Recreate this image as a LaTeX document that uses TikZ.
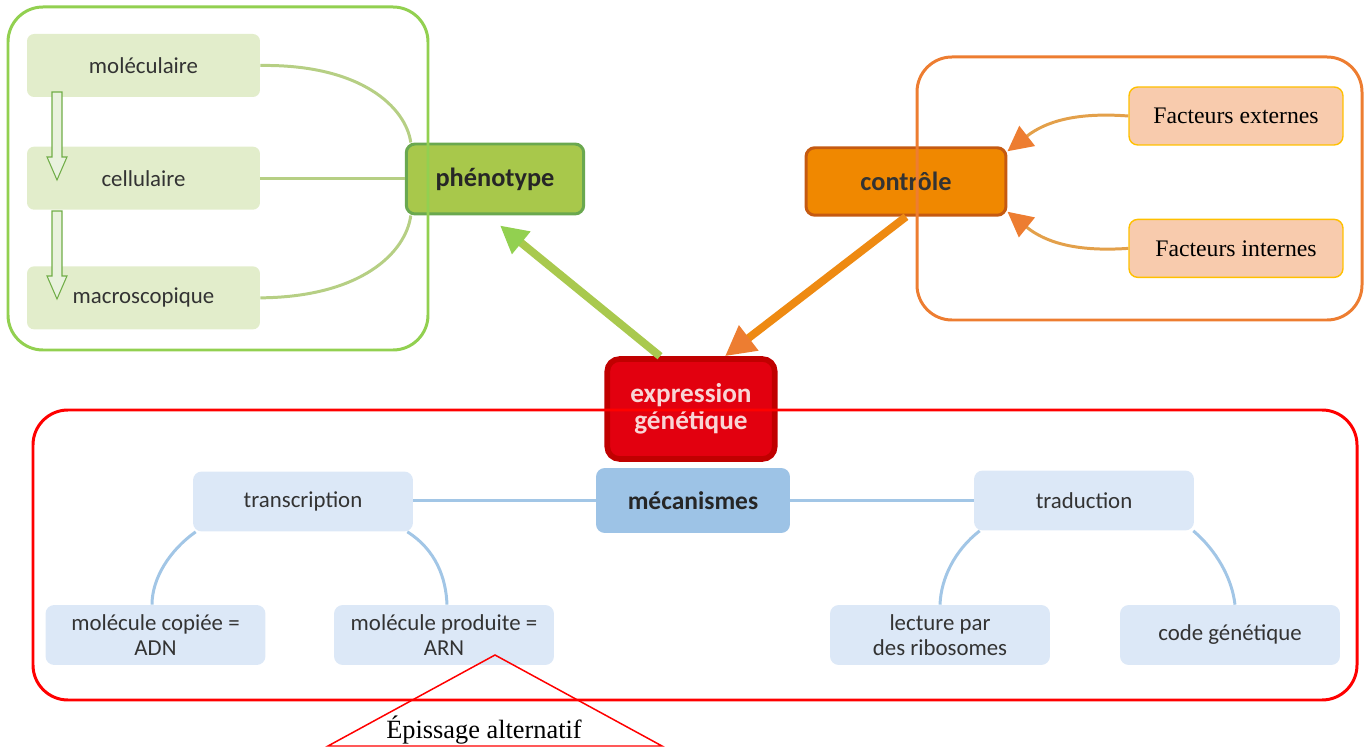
\documentclass[tikz,border=0pt]{standalone}
\usepackage{fontspec}
\setmainfont{Liberation Serif}
\newfontfamily\boxfont{Carlito}
\usepackage{xcolor}
\usetikzlibrary{positioning,calc,arrows.meta}

\definecolor{grnframe}{HTML}{92D050}
\definecolor{grnbox}{HTML}{E2EDCB}
\definecolor{grnline}{HTML}{B6CF84}
\definecolor{grnhead}{HTML}{92D050}
\definecolor{grnshaft}{HTML}{A9C94E}
\definecolor{phenfill}{HTML}{A8C84B}
\definecolor{phenedge}{HTML}{6AA84F}
\definecolor{blkfill}{HTML}{E9F2DE}
\definecolor{blkedge}{HTML}{70AD47}
\definecolor{orgframe}{HTML}{ED7D31}
\definecolor{ctrlfill}{HTML}{F08800}
\definecolor{ctrledge}{HTML}{C55A11}
\definecolor{facfill}{HTML}{F8CBAD}
\definecolor{facedge}{HTML}{FFC000}
\definecolor{orgline}{HTML}{E3A04A}
\definecolor{orgshaft}{HTML}{EE8A12}
\definecolor{exprfill}{HTML}{E2000F}
\definecolor{expredge}{HTML}{C00000}
\definecolor{exprtext}{HTML}{F9D5D5}
\definecolor{mecafill}{HTML}{9DC3E6}
\definecolor{bluebox}{HTML}{DCE8F7}
\definecolor{blueline}{HTML}{A2C6E6}
\definecolor{boxtext}{HTML}{333333}

\tikzset{
  lvlbox/.style={fill=grnbox, rounded corners=4pt, minimum width=4.66cm, minimum height=1.26cm,
    font=\boxfont\fontsize{13}{15}\selectfont, text=boxtext},
  phenbox/.style={fill=phenfill, draw=phenedge, line width=1.7pt, rounded corners=5pt,
    minimum width=3.55cm, minimum height=1.4cm, font=\boxfont\bfseries\fontsize{15}{17}\selectfont, text=black!85},
  ctrlbox/.style={fill=ctrlfill, draw=ctrledge, line width=1.7pt, rounded corners=5pt,
    minimum width=4cm, minimum height=1.35cm, font=\boxfont\bfseries\fontsize{15}{17}\selectfont, text=black!80},
  facbox/.style={fill=facfill, draw=facedge, line width=0.8pt, rounded corners=5pt,
    minimum width=4.28cm, minimum height=1.16cm, font=\fontsize{13.5}{16}\selectfont},
  exprbox/.style={fill=exprfill, draw=expredge, line width=3.2pt, rounded corners=7pt, align=center,
    minimum width=3.35cm, minimum height=2cm, font=\boxfont\bfseries\fontsize{15.5}{15.5}\selectfont, text=exprtext},
  mecabox/.style={fill=mecafill, rounded corners=5pt, minimum width=3.88cm, minimum height=1.3cm,
    font=\boxfont\bfseries\fontsize{14.5}{17}\selectfont, text=black!85},
  subbox/.style={fill=bluebox, rounded corners=5pt, align=center, minimum width=4.4cm, minimum height=1.2cm,
    font=\boxfont\fontsize{13}{14}\selectfont, text=boxtext},
  grnlink/.style={draw=grnline, line width=1.7pt},
  orglink/.style={draw=orgline, line width=1.7pt, -{Triangle[length=0.5cm, width=0.5cm, color=orgframe]}},
  bluelink/.style={draw=blueline, line width=1.7pt},
  grnarrow/.style={draw=grnshaft, line width=4.5pt, -{Triangle[length=0.55cm, width=0.55cm, color=grnhead]}},
  orgarrow/.style={draw=orgshaft, line width=4.5pt, -{Triangle[length=0.6cm, width=0.6cm, color=orgframe]}},
  frame/.style={line width=1.7pt, rounded corners=0.7cm}
}

\begin{document}
\begin{tikzpicture}[x=0.02cm, y=-0.02cm]
  \useasboundingbox (0,0) rectangle (1367,749);

  % phenotype levels
  \node[lvlbox] (mol) at (143.5,65.5) {moléculaire};
  \node[lvlbox, below=0.98cm of mol] (cel) {cellulaire};
  \node[lvlbox, below=1.12cm of cel] (mac) {macroscopique};
  \node[phenbox] (phen) at (495,179) {phénotype};
  \draw[grnlink] (mol.east) .. controls (362,64) and (406,108) .. ([xshift=0.12cm]phen.north west);
  \draw[grnlink] (cel.east) -- (cel.east -| phen.west);
  \draw[grnlink] (mac.east) .. controls (362,297) and (406,252) .. ([xshift=0.12cm]phen.south west);
  \foreach \ya/\yb/\yc in {92/157/180, 211/276/299}
    \draw[blkedge, fill=blkfill, line width=0.6pt] (52,\ya) -- (62,\ya) -- (62,\yb) -- (67,\yb)
      -- (57,\yc) -- (47,\yb) -- (52,\yb) -- cycle;

  % control factors
  \node[ctrlbox] (ctrl) at (906,181.5) {contrôle};
  \node[facbox] (fext) at (1236,116) {Facteurs externes};
  \node[facbox, below=1.46cm of fext] (fint) {Facteurs internes};
  \draw[orglink] (fext.west) .. controls (1075,112) and (1045,122) .. ([yshift=-0.1cm]ctrl.north east);
  \draw[orglink] (fint.west) .. controls (1075,252) and (1045,242) .. ([yshift=0.1cm]ctrl.south east);

  % gene expression
  \node[exprbox] (expr) at (691,409) {expression\\génétique};
  \draw[grnarrow] ([xshift=-0.62cm]expr.north) -- ([shift={(0.1cm,-0.2cm)}]phen.south);
  \draw[orgarrow] (ctrl.south) -- ([xshift=0.68cm]expr.north);

  % mechanisms
  \node[mecabox] (meca) at (693,500.5) {mécanismes};
  \node[subbox] (trans) at (303,501.5) {transcription};
  \node[subbox] (trad) at (1084,500.5) {traduction};
  \node[subbox] (adn) at (155.5,635) {molécule copiée =\\ADN};
  \node[subbox] (arn) at (444,635) {molécule produite =\\ARN};
  \node[subbox] (lect) at (940,635) {lecture par\\des ribosomes};
  \node[subbox] (code) at (1230,635) {code génétique};
  \draw[bluelink] (meca.west) -- (meca.west -| trans.east);
  \draw[bluelink] (meca.east) -- (meca.east -| trad.west);
  \draw[bluelink] ([xshift=0.06cm]trans.south west) .. controls (170,550) and (152,578) .. ([xshift=-0.07cm]adn.north);
  \draw[bluelink] ([xshift=-0.12cm]trans.south east) .. controls (436,550) and (446,578) .. ([xshift=0.06cm]arn.north);
  \draw[bluelink] ([xshift=0.12cm]trad.south west) .. controls (955,550) and (941,578) .. (lect.north);
  \draw[bluelink] ([xshift=-0.02cm]trad.south east) .. controls (1216,550) and (1232,578) .. ([xshift=0.1cm]code.north);

  % frames
  \draw[frame, grnframe] (8,7) rectangle (428,350);
  \draw[frame, orgframe] (917,57) rectangle (1362,320);
  \draw[frame, red] (33,410) rectangle (1357,700);

  % alternative splicing
  \coordinate (apex) at (495,655);
  \draw[red, line width=0.85pt] (apex) -- (662,746) -- (328,746) -- cycle;
  \node[font=\fontsize{15}{17}\selectfont] (epi) at (484,730) {Épissage alternatif};
\end{tikzpicture}
\end{document}
